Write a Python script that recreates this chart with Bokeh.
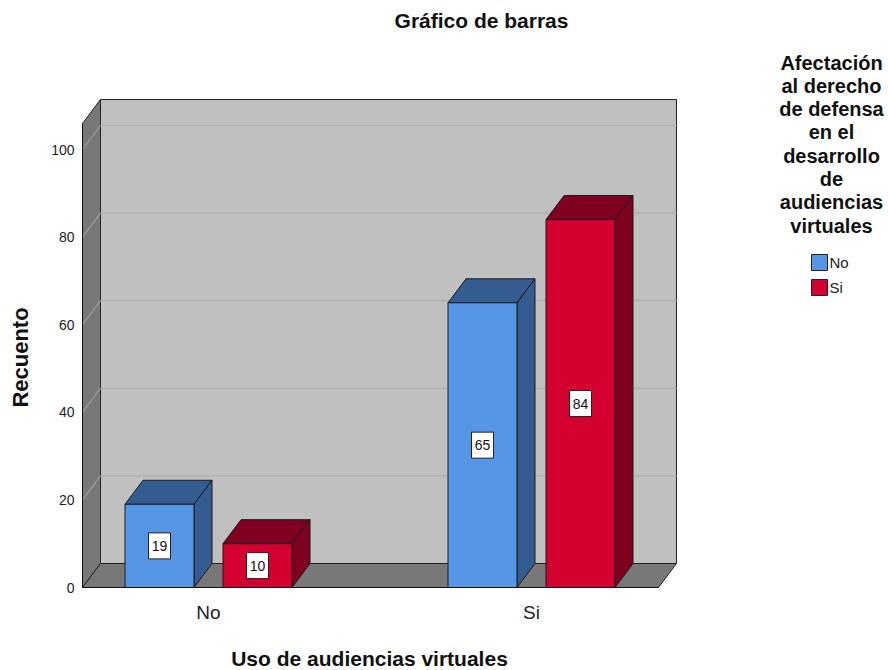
import math
from bokeh.plotting import figure
from bokeh.models import Range1d, FixedTicker
from bokeh.embed import file_html
from bokeh.resources import INLINE
from bokeh.core.properties import value

# ---------------- data ----------------
categories = ["No", "Si"]                 # Uso de audiencias virtuales
series_names = ["No", "Si"]               # Afectación al derecho de defensa ...
counts_no = [19, 65]
counts_si = [10, 84]
y_ticks = [0, 20, 40, 60, 80, 100]
legend_title_lines = ["Afectación", "al derecho", "de defensa", "en el",
                      "desarrollo", "de", "audiencias", "virtuales"]

front_colors = ["#5596E6", "#D40030"]
dark_colors = ["#345C91", "#80001F"]
FONT = "Liberation Sans"

# ---------------- layout (pixels) ----------------
W, H = 888, 670
AX_L, AX_B = 82, 587              # pixel position of the y axis and of the x axis
PX_PER_CAT = 323.0
PX_PER_CNT = 4.38
CAT0 = 208                        # pixel x of the first category


def fx(px):
    return (px - CAT0) / PX_PER_CAT


def fy(py):
    return (AX_B - py) / PX_PER_CNT


x_left = fx(AX_L)
DX = 18 / PX_PER_CAT
DY = 24 / PX_PER_CNT
HALF_W = 34.5 / PX_PER_CAT
OFFS = [-49 / PX_PER_CAT, 49 / PX_PER_CAT]
WALL_TOP = fy(123)
WALL_RIGHT = fx(676)

p = figure(width=W, height=H, x_range=Range1d(fx(0), fx(W)),
           y_range=Range1d(fy(H), fy(0)), output_backend="svg",
           toolbar_location=None, tools="", title=None,
           min_border_left=0, min_border_right=0,
           min_border_top=0, min_border_bottom=0)
p.outline_line_color = None
p.background_fill_color = "white"
p.border_fill_color = "white"
p.grid.visible = False

# walls and floor
p.patch([x_left + DX, WALL_RIGHT, WALL_RIGHT, x_left + DX],
        [DY, DY, WALL_TOP + DY, WALL_TOP + DY],
        fill_color="#C0C0C0", line_color="#222222", line_width=1)
p.patch([x_left, x_left + DX, x_left + DX, x_left],
        [0, DY, WALL_TOP + DY, WALL_TOP],
        fill_color="#787878", line_color="#222222", line_width=1)
p.patch([x_left, WALL_RIGHT - DX, WALL_RIGHT, x_left + DX],
        [0, 0, DY, DY],
        fill_color="#787878", line_color="#222222", line_width=1)

gt = [t for t in y_ticks if t > 0]
p.segment(x0=[x_left + DX] * len(gt), y0=[t + DY for t in gt],
          x1=[WALL_RIGHT] * len(gt), y1=[t + DY for t in gt],
          line_color="#AEAEAE", line_width=1.2)
p.segment(x0=[x_left] * len(gt), y0=gt,
          x1=[x_left + DX] * len(gt), y1=[t + DY for t in gt],
          line_color="#9C9C9C", line_width=1.2)

# 3D bars
label_x, label_y, label_t = [], [], []
for s, vals in enumerate([counts_no, counts_si]):
    tops_xs, tops_ys, sides_xs, sides_ys = [], [], [], []
    left, right, top = [], [], []
    for i, v in enumerate(vals):
        xc = i + OFFS[s]
        x0, x1 = xc - HALF_W, xc + HALF_W
        tops_xs.append([x0, x1, x1 + DX, x0 + DX])
        tops_ys.append([v, v, v + DY, v + DY])
        sides_xs.append([x1, x1 + DX, x1 + DX, x1])
        sides_ys.append([0, DY, v + DY, v])
        left.append(x0)
        right.append(x1)
        top.append(v)
        label_x.append(xc)
        label_y.append(v / 2)
        label_t.append(str(v))
    p.patches(tops_xs, tops_ys, fill_color=dark_colors[s],
              line_color="#1A1A1A", line_width=1)
    p.patches(sides_xs, sides_ys, fill_color=dark_colors[s],
              line_color="#1A1A1A", line_width=1)
    p.quad(left=left, right=right, bottom=[0] * len(vals), top=top,
           fill_color=front_colors[s], line_color="#1A1A1A", line_width=1)

p.rect(x=label_x, y=label_y, width=22, height=26, width_units="screen",
       height_units="screen", fill_color="white", line_color="#222222")
p.text(x=label_x, y=label_y, text=label_t, text_align="center",
       text_baseline="middle", text_font=value(FONT),
       text_font_size="14px", text_color="#111111")

# axes (drawn at the front edges of the 3D box)
p.yaxis.fixed_location = x_left
p.yaxis.ticker = FixedTicker(ticks=y_ticks)
p.yaxis.bounds = (0, WALL_TOP)
p.yaxis.major_tick_out = 0
p.yaxis.major_tick_in = 0
p.yaxis.minor_tick_out = 0
p.yaxis.minor_tick_in = 0
p.yaxis.major_label_standoff = 8
p.yaxis.major_label_text_font = FONT
p.yaxis.major_label_text_font_size = "14px"
p.yaxis.major_label_text_color = "#222222"
p.yaxis.axis_line_color = "#111111"

p.xaxis.fixed_location = 0
p.xaxis.ticker = FixedTicker(ticks=list(range(len(categories))))
p.xaxis.major_label_overrides = {i: c for i, c in enumerate(categories)}
p.xaxis.bounds = (x_left, WALL_RIGHT - DX)
p.xaxis.major_tick_out = 0
p.xaxis.major_tick_in = 0
p.xaxis.minor_tick_out = 0
p.xaxis.minor_tick_in = 0
p.xaxis.major_label_standoff = 14
p.xaxis.major_label_text_font = FONT
p.xaxis.major_label_text_font_size = "19px"
p.xaxis.major_label_text_color = "#222222"
p.xaxis.axis_line_color = "#111111"

# titles
p.text(x=[fx(481)], y=[fy(20)], text=["Gráfico de barras"],
       text_align="center", text_baseline="middle", text_font=value(FONT),
       text_font_style="bold", text_font_size="21px", text_color="#111111")
p.text(x=[fx(20)], y=[fy(357)], text=["Recuento"], angle=math.pi / 2,
       text_align="center", text_baseline="middle", text_font=value(FONT),
       text_font_style="bold", text_font_size="22px", text_color="#111111")
p.text(x=[fx(369)], y=[fy(658)], text=["Uso de audiencias virtuales"],
       text_align="center", text_baseline="middle", text_font=value(FONT),
       text_font_style="bold", text_font_size="21px", text_color="#111111")

# ---------------- legend ----------------
n = len(legend_title_lines)
p.text(x=[fx(831)] * n, y=[fy(62 + 23.3 * i) for i in range(n)],
       text=legend_title_lines, text_align="center",
       text_baseline="alphabetic", text_font=value(FONT),
       text_font_style="bold", text_font_size="20px", text_color="#111111")
m = len(series_names)
sw_y = [fy(262 + 25 * i) for i in range(m)]
p.rect(x=[fx(819)] * m, y=sw_y, width=16, height=16, width_units="screen",
       height_units="screen", fill_color=front_colors, line_color="#222222")
p.text(x=[fx(829)] * m, y=sw_y, text=series_names,
       text_align="left", text_baseline="middle", text_font=value(FONT),
       text_font_size="15px", text_color="#222222")

open("out.html", "w").write(file_html(p, INLINE))
